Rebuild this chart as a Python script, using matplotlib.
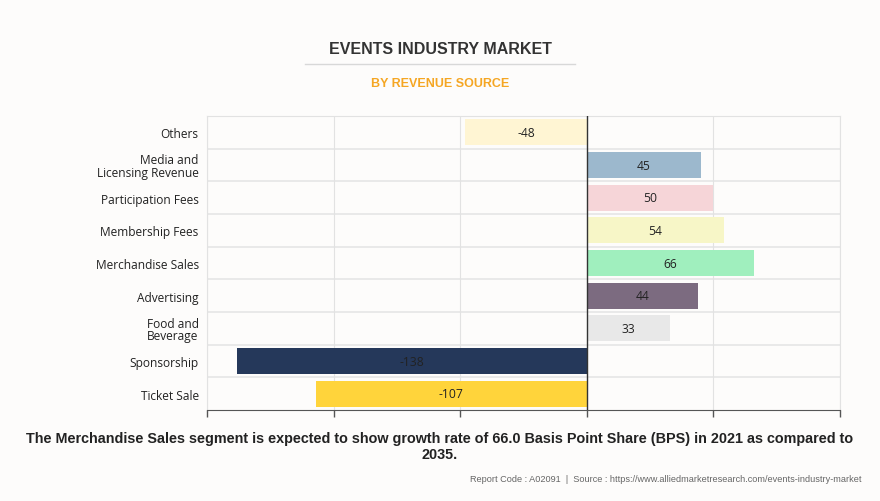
import matplotlib.pyplot as plt
from matplotlib.lines import Line2D

categories = ['Others', 'Media and\nLicensing Revenue', 'Participation Fees', 'Membership Fees',
              'Merchandise Sales', 'Advertising', 'Food and\nBeverage', 'Sponsorship', 'Ticket Sale']
values = [-48, 45, 50, 54, 66, 44, 33, -138, -107]
colors = ['#fff5d3', '#9cb8cd', '#f6d5d8', '#f7f6c7', '#a0efbe', '#7c6b80', '#e8e8e8', '#25385a', '#ffd43b']
text_colors = ['#222222'] * 9

bg = '#fdfcfb'
fig = plt.figure(figsize=(8.8, 5.02), dpi=100, facecolor=bg)
ax = fig.add_axes([207/880, 1 - 411/502, (840-207)/880, (411-117)/502], facecolor=bg)

y = list(range(len(categories)))
ax.barh(y, values, height=0.8, color=colors, zorder=3)
for yi, v, tc in zip(y, values, text_colors):
    ax.text(v / 2, yi, str(v), ha='center', va='center', fontsize=8.7,
            color=tc, family='Open Sans', zorder=4)

ax.set_ylim(len(categories) - 0.5, -0.5)
ax.set_xlim(-150, 100)
ax.set_xticks([-150, -100, -50, 0, 50, 100])
ax.set_xticklabels([])
ax.set_yticks(y)
ax.set_yticklabels(categories, fontsize=8.6, family='Open Sans', color='#222222', linespacing=0.95)
ax.tick_params(axis='y', length=0, pad=6)
ax.tick_params(axis='x', length=5, color='#555555', width=1)

# gridlines
ax.grid(axis='x', color='#e2e2e2', linewidth=0.8, zorder=0)
for b in [i + 0.5 for i in range(len(categories) - 1)]:
    ax.axhline(b, color='#e6e6e6', linewidth=1.2, zorder=1)
ax.axvline(0, color='#333333', linewidth=1, zorder=5)

for s in ['top', 'right', 'left']:
    ax.spines[s].set_color('#e2e2e2')
ax.spines['bottom'].set_color('#555555')

fig.text(0.5, 1 - 50/502, 'EVENTS INDUSTRY MARKET', ha='center', va='center',
         fontsize=11.5, fontweight='bold', color='#333333', family='Liberation Sans')
fig.add_artist(Line2D([305/880, 575/880], [1 - 65/502, 1 - 65/502], color='#d8d8d8', linewidth=1))
fig.text(0.5, 1 - 84/502, 'BY REVENUE SOURCE', ha='center', va='center',
         fontsize=9, fontweight='bold', color='#f5a623', family='Liberation Sans')

fig.text(0.5, 1 - 447/502,
         'The Merchandise Sales segment is expected to show growth rate of 66.0 Basis Point Share (BPS) in 2021 as compared to\n2035.',
         ha='center', va='center', fontsize=10.4, fontweight='bold', color='#222222',
         family='Liberation Sans', linespacing=1.25)
fig.text(861/880, 1 - 480/502,
         'Report Code : A02091  |  Source : https://www.alliedmarketresearch.com/events-industry-market',
         ha='right', va='center', fontsize=6.6, color='#666666', family='Liberation Sans')

fig.savefig('out.png', dpi=100, facecolor=bg)
